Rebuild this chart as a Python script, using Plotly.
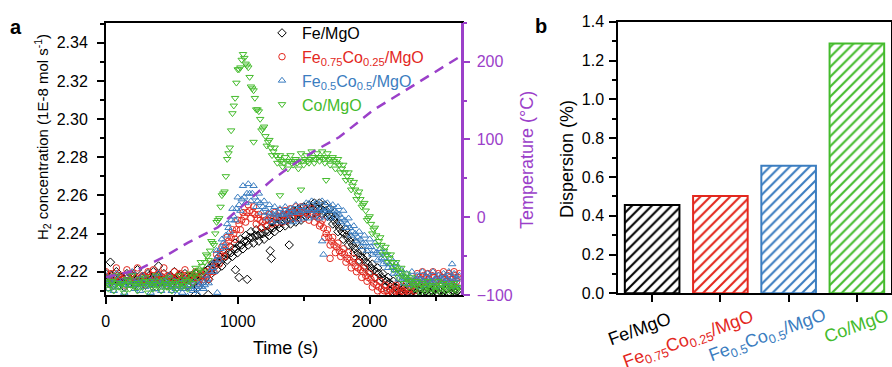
import plotly.graph_objects as go

# ---------------- data: panel a ----------------
time_s = [0, 20, 40, 60, 80, 100, 120, 140, 160, 180, 200, 220, 240, 260, 280,
          300, 320, 340, 360, 380, 400, 420, 440, 460, 480, 500, 520, 540, 560, 580,
          600, 620, 640, 660, 680, 700, 720, 740, 760, 780, 800, 820, 840, 860, 880,
          900, 920, 940, 960, 980, 1000, 1020, 1040, 1060, 1080, 1100, 1120, 1140, 1160, 1180,
          1200, 1220, 1240, 1260, 1280, 1300, 1320, 1340, 1360, 1380, 1400, 1420, 1440, 1460, 1480,
          1500, 1520, 1540, 1560, 1580, 1600, 1620, 1640, 1660, 1680, 1700, 1720, 1740, 1760, 1780,
          1800, 1820, 1840, 1860, 1880, 1900, 1920, 1940, 1960, 1980, 2000, 2020, 2040, 2060, 2080,
          2100, 2120, 2140, 2160, 2180, 2200, 2220, 2240, 2260, 2280, 2300, 2320, 2340, 2360, 2380,
          2400, 2420, 2440, 2460, 2480, 2500, 2520, 2540, 2560, 2580, 2600, 2620, 2640, 2660, 2680]

# second, interleaved set of readings (band centres)
time_mid = [10, 30, 50, 70, 90, 110, 130, 150, 170, 190, 210, 230, 250, 270, 290,
            310, 330, 350, 370, 390, 410, 430, 450, 470, 490, 510, 530, 550, 570, 590,
            610, 630, 650, 670, 690, 710, 730, 750, 770, 790, 810, 830, 850, 870, 890,
            910, 930, 950, 970, 990, 1010, 1030, 1050, 1070, 1090, 1110, 1130, 1150, 1170, 1190,
            1210, 1230, 1250, 1270, 1290, 1310, 1330, 1350, 1370, 1390, 1410, 1430, 1450, 1470, 1490,
            1510, 1530, 1550, 1570, 1590, 1610, 1630, 1650, 1670, 1690, 1710, 1730, 1750, 1770, 1790,
            1810, 1830, 1850, 1870, 1890, 1910, 1930, 1950, 1970, 1990, 2010, 2030, 2050, 2070, 2090,
            2110, 2130, 2150, 2170, 2190, 2210, 2230, 2250, 2270, 2290, 2310, 2330, 2350, 2370, 2390,
            2410, 2430, 2450, 2470, 2490, 2510, 2530, 2550, 2570, 2590, 2610, 2630, 2650, 2670]

fe_mgo = [2.219, 2.214, 2.218, 2.213, 2.220, 2.215, 2.217, 2.212, 2.219, 2.214,
          2.218, 2.213, 2.221, 2.215, 2.217, 2.213, 2.219, 2.214, 2.220, 2.212,
          2.218, 2.215, 2.219, 2.213, 2.217, 2.214, 2.220, 2.212, 2.218, 2.215,
          2.219, 2.213, 2.217, 2.214, 2.219, 2.212, 2.218, 2.215, 2.217, 2.216,
          2.219,
          2.224, 2.221, 2.228, 2.223, 2.230, 2.226, 2.233, 2.228, 2.235, 2.230,
          2.237, 2.232, 2.239, 2.234, 2.241, 2.235, 2.242, 2.236, 2.243, 2.237,
          2.244, 2.239, 2.246, 2.241, 2.248, 2.243, 2.249, 2.244, 2.250, 2.245,
          2.252, 2.246, 2.253, 2.247, 2.254, 2.249, 2.255, 2.250, 2.256, 2.250,
          2.256, 2.250, 2.255, 2.249, 2.253,
          2.245, 2.249, 2.241, 2.245, 2.237, 2.242, 2.234, 2.238, 2.230, 2.235,
          2.226, 2.231, 2.223, 2.228, 2.220, 2.224, 2.217, 2.222, 2.215, 2.219,
          2.212, 2.217, 2.210, 2.215, 2.209, 2.213, 2.208, 2.212, 2.208, 2.212,
          2.207, 2.211, 2.208, 2.212, 2.207, 2.211, 2.208, 2.212, 2.207, 2.211,
          2.208, 2.212, 2.207, 2.211, 2.208, 2.212, 2.207, 2.211, 2.208]
fe_mgo_mid = [2.216, 2.217, 2.215, 2.216, 2.218, 2.215, 2.216, 2.217, 2.215, 2.216,
              2.217, 2.216, 2.215, 2.217, 2.216, 2.215, 2.218, 2.216, 2.215, 2.217,
              2.216, 2.217, 2.215, 2.216, 2.218, 2.216, 2.215, 2.217, 2.216, 2.215,
              2.217, 2.216, 2.218, 2.217, 2.219, 2.218, 2.219, 2.220, 2.221, 2.222,
              2.223,
              2.223, 2.225, 2.225, 2.227, 2.228, 2.230, 2.230, 2.232, 2.232, 2.234,
              2.234, 2.236, 2.236, 2.238, 2.238, 2.239, 2.239, 2.240, 2.240, 2.241,
              2.241, 2.243, 2.243, 2.245, 2.245, 2.246, 2.247, 2.247, 2.248, 2.249,
              2.249, 2.250, 2.250, 2.251, 2.251, 2.252, 2.253, 2.253, 2.254, 2.253,
              2.253, 2.252, 2.252, 2.250, 2.249,
              2.247, 2.245, 2.243, 2.241, 2.240, 2.238, 2.236, 2.234, 2.232, 2.230,
              2.228, 2.227, 2.225, 2.224, 2.222, 2.221, 2.220, 2.219, 2.217, 2.216,
              2.215, 2.214, 2.213, 2.212, 2.211,
              2.210, 2.209, 2.210, 2.211, 2.209, 2.210, 2.209, 2.210, 2.211, 2.209,
              2.210, 2.209, 2.210, 2.211, 2.209, 2.210, 2.209, 2.210, 2.211, 2.209,
              2.210, 2.209, 2.210]

fe075_co025 = [2.220, 2.214, 2.219, 2.215, 2.222, 2.216, 2.218, 2.213, 2.221, 2.215,
               2.219, 2.214, 2.222, 2.216, 2.218, 2.213, 2.220, 2.215, 2.221, 2.214,
               2.219, 2.216, 2.222, 2.213, 2.218, 2.215, 2.220, 2.214, 2.219, 2.216,
               2.221, 2.213, 2.218, 2.215, 2.220, 2.214, 2.219, 2.216,
               2.220, 2.216, 2.224, 2.220, 2.229, 2.224, 2.233, 2.228, 2.238, 2.233,
               2.242, 2.237, 2.247, 2.242, 2.251, 2.246, 2.255, 2.248, 2.254, 2.245,
               2.250, 2.243, 2.249,
               2.244, 2.250, 2.245, 2.251, 2.246, 2.252, 2.246, 2.252, 2.247, 2.253,
               2.248, 2.254, 2.248, 2.254, 2.248, 2.253, 2.247, 2.253, 2.246, 2.251,
               2.244, 2.247, 2.238, 2.242, 2.234, 2.238, 2.230, 2.235, 2.228, 2.232,
               2.225, 2.230, 2.222, 2.227, 2.220, 2.225, 2.217, 2.222, 2.215, 2.219,
               2.212, 2.217, 2.210, 2.215, 2.208,
               2.213, 2.207, 2.212, 2.208, 2.213, 2.207, 2.212, 2.209, 2.214, 2.208,
               2.215, 2.210, 2.219, 2.214, 2.220, 2.215, 2.219, 2.214, 2.220, 2.215,
               2.219, 2.214, 2.220, 2.215, 2.219, 2.214, 2.220, 2.215, 2.219]
fe075_co025_mid = [2.217, 2.218, 2.216, 2.217, 2.218, 2.217, 2.216, 2.218, 2.217, 2.216,
                   2.218, 2.217, 2.216, 2.217, 2.218, 2.216, 2.217, 2.218, 2.217, 2.216,
                   2.218, 2.217, 2.216, 2.218, 2.217, 2.216, 2.217, 2.218, 2.216, 2.217,
                   2.218, 2.217, 2.216, 2.218, 2.217, 2.216, 2.218, 2.218,
                   2.218, 2.220, 2.222, 2.225, 2.227, 2.229, 2.231, 2.234, 2.236, 2.238,
                   2.240, 2.242, 2.245, 2.247, 2.249, 2.251, 2.252, 2.251, 2.250, 2.248,
                   2.247, 2.246, 2.247,
                   2.247, 2.248, 2.248, 2.249, 2.249, 2.249, 2.250, 2.250, 2.251, 2.251,
                   2.251, 2.251, 2.252, 2.251, 2.251, 2.250, 2.250, 2.250, 2.249, 2.248,
                   2.245, 2.243, 2.240, 2.238, 2.236, 2.234, 2.233, 2.231, 2.230, 2.229,
                   2.227, 2.226, 2.225, 2.223, 2.222, 2.221, 2.220, 2.218, 2.217, 2.216,
                   2.214, 2.213, 2.212, 2.211, 2.210,
                   2.210, 2.211, 2.209, 2.210, 2.211, 2.209, 2.210, 2.211, 2.210, 2.211,
                   2.213, 2.215, 2.217, 2.216, 2.218, 2.217, 2.216, 2.218, 2.217, 2.216,
                   2.218, 2.217, 2.216, 2.218, 2.217, 2.216, 2.218, 2.217]

fe05_co05 = [2.218, 2.211, 2.216, 2.210, 2.219, 2.212, 2.215, 2.209, 2.217, 2.213,
             2.220, 2.211, 2.216, 2.210, 2.218, 2.212, 2.214, 2.209, 2.217, 2.211,
             2.219, 2.210, 2.215, 2.212, 2.218,
             2.210, 2.215, 2.208, 2.214, 2.209, 2.216, 2.207, 2.213, 2.210, 2.215,
             2.208, 2.214, 2.211,
             2.218, 2.214, 2.224, 2.220, 2.231, 2.226, 2.237, 2.233, 2.245, 2.241,
             2.253, 2.247, 2.259, 2.252, 2.265, 2.256, 2.266, 2.257, 2.265, 2.254,
             2.261, 2.251, 2.257, 2.248, 2.255, 2.246,
             2.254, 2.247, 2.253, 2.246, 2.254, 2.247, 2.253, 2.246, 2.255, 2.247,
             2.254, 2.248, 2.256, 2.248, 2.257, 2.249, 2.256, 2.248, 2.257, 2.249,
             2.256, 2.248, 2.255, 2.249,
             2.254, 2.246, 2.252, 2.243, 2.248, 2.239, 2.244, 2.236, 2.241, 2.233,
             2.239, 2.231, 2.237, 2.229, 2.235, 2.226, 2.232, 2.224, 2.230, 2.222,
             2.227, 2.219, 2.224, 2.216, 2.221, 2.214,
             2.219, 2.213, 2.220, 2.214, 2.218, 2.212, 2.220, 2.213, 2.219, 2.214,
             2.220, 2.212, 2.218, 2.213, 2.219, 2.214, 2.220, 2.212, 2.219, 2.213,
             2.218]
fe05_co05_mid = [2.214, 2.215, 2.213, 2.214, 2.216, 2.214, 2.213, 2.215, 2.214, 2.213,
                 2.215, 2.214, 2.213, 2.216, 2.214, 2.213, 2.215, 2.214, 2.213, 2.215,
                 2.214, 2.213, 2.215, 2.214, 2.213,
                 2.212, 2.211, 2.213, 2.212, 2.211, 2.212, 2.213, 2.211, 2.212, 2.211,
                 2.213, 2.212, 2.213,
                 2.216, 2.220, 2.222, 2.226, 2.228, 2.232, 2.235, 2.239, 2.243, 2.247,
                 2.249, 2.253, 2.255, 2.258, 2.259, 2.261, 2.261, 2.261, 2.259, 2.257,
                 2.256, 2.254, 2.253, 2.251, 2.251, 2.250,
                 2.250, 2.251, 2.250, 2.250, 2.251, 2.250, 2.251, 2.251, 2.252, 2.251,
                 2.252, 2.252, 2.253, 2.252, 2.252, 2.253, 2.252, 2.253, 2.252, 2.252,
                 2.253, 2.252, 2.252, 2.251,
                 2.250, 2.248, 2.247, 2.245, 2.243, 2.241, 2.240, 2.238, 2.237, 2.235,
                 2.235, 2.233, 2.233, 2.231, 2.230, 2.229, 2.227, 2.227, 2.225, 2.224,
                 2.222, 2.221, 2.219, 2.219, 2.217, 2.217,
                 2.216, 2.217, 2.215, 2.216, 2.217, 2.216, 2.215, 2.217, 2.216, 2.215,
                 2.216, 2.217, 2.215, 2.216, 2.217, 2.216, 2.215, 2.217, 2.216, 2.216]

co_mgo = [2.217, 2.211, 2.215, 2.210, 2.218, 2.212, 2.214, 2.209, 2.216, 2.211,
          2.218, 2.213, 2.210, 2.216, 2.212, 2.217, 2.209, 2.215, 2.211, 2.218,
          2.213, 2.210, 2.216, 2.212, 2.217, 2.210, 2.214, 2.211, 2.218, 2.212,
          2.216, 2.211,
          2.219, 2.214, 2.222, 2.217, 2.225, 2.220, 2.229, 2.226, 2.236, 2.234,
          2.246, 2.248, 2.260, 2.262, 2.279, 2.285, 2.303, 2.311, 2.326, 2.327,
          2.334, 2.329, 2.327, 2.317, 2.315, 2.305, 2.304, 2.294, 2.296, 2.286,
          2.289, 2.281, 2.285, 2.277,
          2.281, 2.275, 2.280, 2.274, 2.281, 2.276, 2.279, 2.274, 2.282, 2.276,
          2.281, 2.277, 2.283, 2.277, 2.282, 2.278, 2.283, 2.277, 2.282, 2.276,
          2.280, 2.274,
          2.279, 2.272, 2.276, 2.268, 2.272, 2.263, 2.267, 2.258, 2.262, 2.254,
          2.256, 2.247, 2.249, 2.240, 2.243, 2.234, 2.238, 2.229, 2.233, 2.225,
          2.229, 2.221, 2.225, 2.217, 2.222, 2.214, 2.219, 2.212, 2.217, 2.211,
          2.215, 2.209, 2.214, 2.210, 2.215, 2.209, 2.213, 2.210, 2.215, 2.209,
          2.214, 2.210, 2.213, 2.209, 2.214, 2.210, 2.212]
co_mgo_mid = [2.214, 2.213, 2.215, 2.213, 2.214, 2.212, 2.214, 2.213, 2.215, 2.213,
              2.214, 2.212, 2.214, 2.213, 2.215, 2.213, 2.214, 2.212, 2.214, 2.213,
              2.215, 2.213, 2.214, 2.212, 2.214, 2.213, 2.215, 2.213, 2.214, 2.213,
              2.215, 2.215,
              2.217, 2.218, 2.220, 2.221, 2.223, 2.225, 2.228, 2.231, 2.235, 2.240,
              2.247, 2.254, 2.261, 2.270, 2.282, 2.294, 2.307, 2.319, 2.326, 2.331,
              2.332, 2.328, 2.322, 2.316, 2.311, 2.305, 2.300, 2.295, 2.291, 2.288,
              2.285, 2.283, 2.281, 2.279,
              2.278, 2.277, 2.278, 2.278, 2.277, 2.278, 2.277, 2.278, 2.278, 2.279,
              2.278, 2.279, 2.280, 2.279, 2.280, 2.280, 2.279, 2.280, 2.279, 2.279,
              2.278, 2.277,
              2.276, 2.274, 2.272, 2.270, 2.268, 2.265, 2.263, 2.260, 2.258, 2.255,
              2.252, 2.248, 2.245, 2.242, 2.239, 2.236, 2.234, 2.231, 2.229, 2.227,
              2.225, 2.223, 2.221, 2.220, 2.218, 2.217, 2.216, 2.215, 2.214, 2.213,
              2.212, 2.213, 2.211, 2.212, 2.213, 2.211, 2.212, 2.212, 2.211, 2.213,
              2.212, 2.211, 2.212, 2.213, 2.211, 2.212]

# scattered single points away from the main bands
fe_out_t = [35, 400, 680, 776, 983, 1010, 1072, 1246, 1255, 1390]
fe_out_v = [2.225, 2.223, 2.208, 2.208, 2.221, 2.217, 2.216, 2.231, 2.227, 2.234]
fe075_out_t = [1700]
fe075_out_v = [2.227]
fe05_out_t = [845, 1640, 1650, 2625]
fe05_out_v = [2.209, 2.236, 2.229, 2.224]
co_out_t = [1120, 1320, 1480, 1670]
co_out_v = [2.288, 2.260, 2.263, 2.268]

temp_t = [0, 240, 440, 620, 850, 1090, 1260, 1440, 1590, 1770, 2030, 2280, 2610, 2690]
temp_c = [-77, -68, -51, -33, -13, 22, 48, 70, 86, 103, 138, 164, 198, 207]

# ---------------- data: panel b ----------------
catalysts = ["Fe/MgO", "Fe0.75Co0.25/MgO", "Fe0.5Co0.5/MgO", "Co/MgO"]
catalyst_labels = ["Fe/MgO", "Fe<sub>0.75</sub>Co<sub>0.25</sub>/MgO",
                   "Fe<sub>0.5</sub>Co<sub>0.5</sub>/MgO", "Co/MgO"]
dispersion = [0.455, 0.502, 0.657, 1.288]

# ---------------- style ----------------
FONT = "Liberation Sans, Arial, sans-serif"
BLACK = "#000000"
RED = "#E3281E"
BLUE = "#3B7DC0"
GREEN = "#44BB2C"
PURPLE = "#9B40C9"
colors = [BLACK, RED, BLUE, GREEN]
symbols = ["diamond-open", "circle-open", "triangle-up-open", "triangle-down-open"]
series = [fe_mgo, fe075_co025, fe05_co05, co_mgo]
series_mid = [fe_mgo_mid, fe075_co025_mid, fe05_co05_mid, co_mgo_mid]
outs = [(fe_out_t, fe_out_v), (fe075_out_t, fe075_out_v),
        (fe05_out_t, fe05_out_v), (co_out_t, co_out_v)]
MSIZE = 6.5

fig = go.Figure()

for vals, mids, (ot, ov), c, s, lab in zip(series, series_mid, outs, colors, symbols, catalyst_labels):
    mk = dict(symbol=s, size=MSIZE, color=c, line=dict(color=c, width=1))
    fig.add_trace(go.Scatter(
        x=time_s, y=vals, mode="markers", xaxis="x", yaxis="y",
        name=f'<span style="color:{c}">{lab}</span>', marker=mk,
    ))
    fig.add_trace(go.Scatter(
        x=time_mid, y=mids, mode="markers", xaxis="x", yaxis="y", showlegend=False, marker=mk,
    ))
    fig.add_trace(go.Scatter(
        x=ot, y=ov, mode="markers", xaxis="x", yaxis="y", showlegend=False, marker=mk,
    ))

fig.add_trace(go.Scatter(
    x=temp_t, y=temp_c, mode="lines", xaxis="x", yaxis="y2", showlegend=False,
    line=dict(color=PURPLE, width=2.5, dash="10px,7px"),
))

for cat, v, c in zip(catalysts, dispersion, colors):
    fig.add_trace(go.Bar(
        x=[cat], y=[v], xaxis="x2", yaxis="y3", showlegend=False, width=0.8,
        marker=dict(color="white", line=dict(color=c, width=2),
                    pattern=dict(shape="/", fgcolor=c, bgcolor="white", size=7,
                                 solidity=0.3, fillmode="replace")),
    ))

W, H = 892, 367
def px(x):
    return x / W
def py(y):
    return 1 - y / H

axis_common = dict(showgrid=False, zeroline=False, showline=True, linecolor=BLACK,
                   linewidth=1.5, ticks="outside", ticklen=7, tickwidth=1.5,
                   automargin=False,
                   tickcolor=BLACK, tickfont=dict(family=FONT, size=16, color=BLACK))

fig.update_layout(
    template="none",
    width=W, height=H, margin=dict(l=0, r=0, t=0, b=0, pad=0, autoexpand=False),
    paper_bgcolor="white", plot_bgcolor="white",
    font=dict(family=FONT, size=16, color=BLACK),
    barmode="overlay",
    xaxis=dict(axis_common, domain=[px(105.8), px(460.7)], range=[0, 2690],
               anchor="y", mirror=True, dtick=1000, tick0=0,
               minor=dict(ticks="outside", ticklen=4, dtick=500, tickcolor=BLACK, tickwidth=1.5),
               ticklabelstandoff=4),
    yaxis=dict(axis_common, domain=[py(295), py(22.7)], range=[2.2078, 2.3505],
               anchor="x", dtick=0.02, tick0=2.22, tickformat=".2f",
               minor=dict(ticks="outside", ticklen=4, dtick=0.01, tickcolor=BLACK, tickwidth=1.5),
               ticklabelstandoff=6),
    yaxis2=dict(axis_common, overlaying="y", side="right", anchor="x",
                range=[-100, 250], dtick=100, tick0=-100,
                linecolor=PURPLE, linewidth=2.5, tickcolor=PURPLE,
                tickfont=dict(family=FONT, size=16, color=PURPLE),
                minor=dict(ticks="outside", ticklen=4, dtick=50, tickcolor=PURPLE, tickwidth=1.5),
                ticklabelstandoff=3),
    xaxis2=dict(axis_common, domain=[px(618), px(891)], anchor="y3", mirror=True,
                range=[-0.5, 3.5], showticklabels=False, categoryorder="array",
                categoryarray=catalysts),
    yaxis3=dict(axis_common, domain=[py(293.3), py(21.7)], anchor="x2", mirror=True,
                range=[0, 1.4], dtick=0.2, tick0=0, tickformat=".1f",
                minor=dict(ticks="outside", ticklen=4, dtick=0.1, tickcolor=BLACK, tickwidth=1.5),
                ticklabelstandoff=2),
    legend=dict(x=px(262), y=py(16), xanchor="left", yanchor="top",
                bgcolor="rgba(0,0,0,0)", font=dict(family=FONT, size=16),
                tracegroupgap=0),
)

annotations = [
    dict(text="<b>a</b>", x=px(16), y=py(27), font=dict(size=20)),
    dict(text="<b>b</b>", x=px(541), y=py(26), font=dict(size=20)),
    dict(text="Time (s)", x=px(285), y=py(348), font=dict(size=18)),
    dict(text="H<sub>2</sub> concentration (1E-8 mol s<sup>-1</sup>)", x=px(42), y=py(137),
         textangle=-90, font=dict(size=15)),
    dict(text="Temperature (°C)", x=px(527), y=py(160), textangle=-90,
         font=dict(size=18, color=PURPLE)),
    dict(text="Dispersion (%)", x=px(567), y=py(159), textangle=-90, font=dict(size=18)),
]
label_pos = [(639, 329), (688, 340), (767, 336), (856, 326)]
for lab, c, (lx, ly) in zip(catalyst_labels, colors, label_pos):
    annotations.append(dict(text=lab, x=px(lx), y=py(ly), textangle=-20,
                            font=dict(size=18, color=c)))
for a in annotations:
    a.update(xref="paper", yref="paper", showarrow=False, xanchor="center", yanchor="middle")
    a["font"] = dict(family=FONT, color=a["font"].get("color", BLACK), size=a["font"]["size"])
fig.update_layout(annotations=annotations)

fig.write_html("out.html", config={"displayModeBar": False},
               post_script="document.body.style.margin='0px';")
